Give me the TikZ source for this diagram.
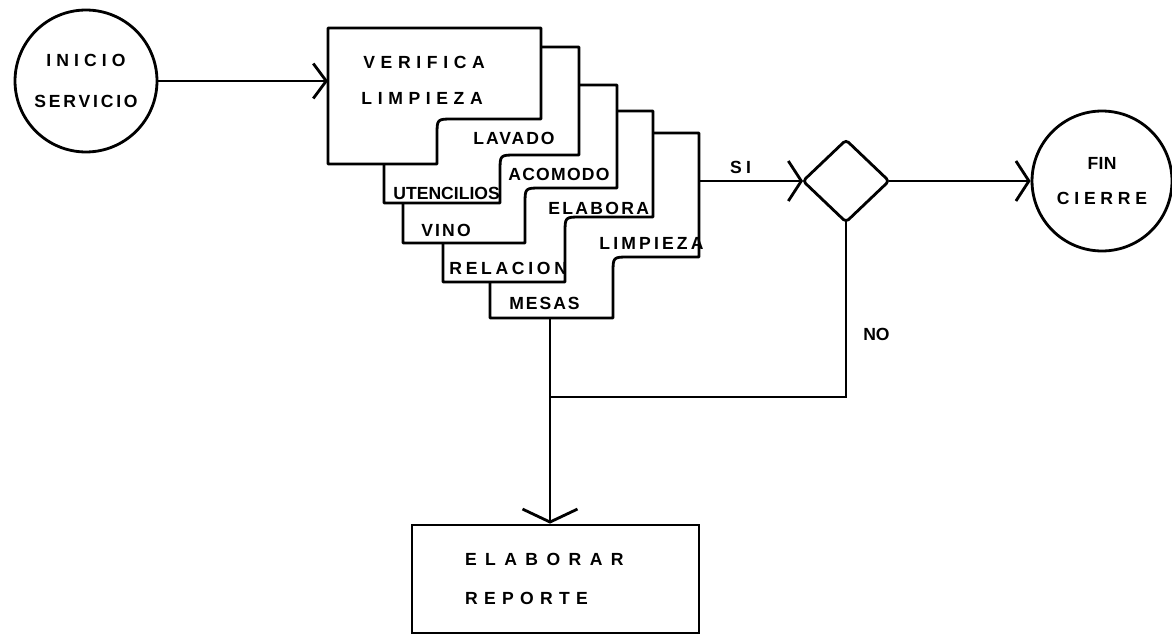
\documentclass[tikz,border=0pt]{standalone}
\usepackage{fontspec}
\newfontfamily\rotulo{Liberation Sans}
\usetikzlibrary{arrows.meta,calc,shapes.geometric}

\tikzset{
  letra/.style={font=\rotulo\bfseries\addfontfeature{LetterSpace=#1}},
  letra/.default=10,
  txt/.style={letra=#1, anchor=west, inner sep=0pt},
  hoja/.style={draw, fill=white, line join=round},
  flecha/.style={-{Straight Barb[length=0.26cm,width=#1]}},
  flecha/.default=0.8cm,
}

% hoja: izq, arriba, der, abajo der, escalon, abajo izq
\newcommand\hoja[6]{%
  \filldraw[hoja] (#1,#2) -- (#3,#2) -- (#3,#4) -- ($(#5,#4)+(16,0)$)
    .. controls (#5,#4) .. ($(#5,#4)+(0,16)$) -- (#5,#6) -- (#1,#6) -- cycle;}
\newcommand\sep[2]{{\addfontfeature{LetterSpace=#1}#2}}

\begin{document}
\begin{tikzpicture}[x=0.02cm, y=-0.02cm, line width=1.6pt]
\useasboundingbox (0,0) rectangle (1172,635);

\node[circle, draw, minimum size=2.84cm, inner sep=0pt, align=center, letra] (ini) at (86,81) {\sep{29}{INICIO}\\[11pt]\sep{16}{SERVICIO}};

% hojas, de atras hacia adelante
\hoja{490}{133}{699}{257}{613}{318}
\hoja{443}{111}{653}{217}{565}{282}
\hoja{403}{85}{617}{188}{525}{243}
\hoja{384}{47}{579}{155}{500}{203}
\hoja{328}{28}{541}{119}{437}{164}

\node[txt=32] (verifica) at (362,62) {VERIFICA};
\node[txt=32] (limpieza) at (360,98) {LIMPIEZA};
\node[txt=11] (lavado) at (472,138) {LAVADO};
\node[txt=0] (utencilios) at (392,193) {UTENCILIOS};
\node[txt=7] (acomodo) at (507,174) {ACOMODO};
\node[txt=12] (vino) at (420,230) {VINO};
\node[txt=13] (elabora) at (547,208) {ELABORA};
\node[txt=21] (relacion) at (448,268) {RELACION};
\node[txt=18] (limpieza2) at (598,243) {LIMPIEZA};
\node[txt=11] (mesas) at (508,303) {MESAS};

\coordinate (p1w) at (328,81);
\coordinate (p5e) at (699,181);
\coordinate (p5s) at (550,318);
\coordinate (cruce) at (550,397);

\node[diamond, draw, rounded corners=2pt, outer sep=0pt, minimum width=1.72cm, minimum height=1.64cm, inner sep=0pt] (dec) at (846,181) {};
\node[circle, draw, minimum size=2.8cm, inner sep=0pt, align=center, letra] (fin) at (1102,181) {\sep{2}{FIN}\\[8pt]\sep{27}{CIERRE}};
\node[draw, minimum width=5.74cm, minimum height=2.16cm, text width=3.62cm, inner xsep=1.06cm, align=left, letra] (rep) at (555.5,579) {\sep{48}{ELABORAR}\\[10pt]\sep{36}{REPORTE}};

\draw[flecha=0.7cm] (ini) -- (p1w);
\draw[flecha] (p5e) -- node[pos=0.4, above, letra=25] (si) {SI} (dec.west);
\draw[flecha] (dec.east) -- (fin.west);
\draw (dec.south) |- node[pos=0.32, right=0.2cm, letra=0] (no) {NO} (cruce);
\draw[flecha=1.1cm] (p5s) -- (p5s |- rep.north);
\end{tikzpicture}
\end{document}
